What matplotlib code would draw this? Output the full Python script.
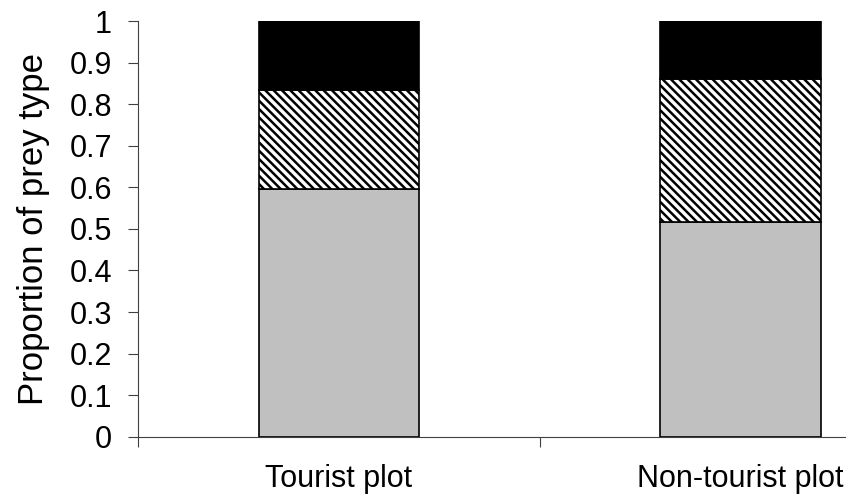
import numpy as np
import matplotlib.pyplot as plt

# data
categories = ['Tourist plot', 'Non-tourist plot']
prey_grey = [0.597, 0.517]
prey_hatched = [0.236, 0.343]
prey_black = [0.167, 0.140]
yticks = [0, 0.1, 0.2, 0.3, 0.4, 0.5, 0.6, 0.7, 0.8, 0.9, 1]
yticklabels = ['0', '0.1', '0.2', '0.3', '0.4', '0.5', '0.6', '0.7', '0.8', '0.9', '1']

plt.rcParams['font.family'] = ['Liberation Sans', 'DejaVu Sans']
plt.rcParams['font.size'] = 22
plt.rcParams['hatch.linewidth'] = 1.8

fig = plt.figure(dpi=100, figsize=[8.46, 4.97])
# axes run past the right edge, as in the cropped original
ax1 = fig.add_axes([0.1635, 0.1213, 0.949, 0.8364])

xpos = np.arange(len(categories))
bottom2 = np.array(prey_grey)
bottom3 = bottom2 + np.array(prey_hatched)

ax1.bar(xpos, prey_grey, width=0.4, color='#c0c0c0', edgecolor='black', linewidth=1.2)
ax1.bar(xpos, prey_hatched, width=0.4, bottom=bottom2, color='white',
        edgecolor='black', hatch='\\\\\\\\', linewidth=1.2)
ax1.bar(xpos, prey_black, width=0.4, bottom=bottom3, color='black',
        edgecolor='black', linewidth=1.2)

ax1.set_xlim(-0.5, len(categories) - 0.5)
ax1.set_ylim(0, 1)

# y axis
ax1.set_yticks(yticks)
ax1.set_yticklabels(yticklabels)
ax1.tick_params(axis='y', length=7, width=0.8, color='#404040', pad=12)
ax1.set_ylabel('Proportion of prey type', fontsize=25, labelpad=14)

# x axis: ticks between categories, labels at the centres
ax1.set_xticks(np.arange(-0.5, len(categories) + 0.5, 1.0))
ax1.set_xticklabels([])
ax1.tick_params(axis='x', which='major', length=7, width=0.8, color='#404040')
ax1.set_xticks(xpos, minor=True)
ax1.set_xticklabels(categories, minor=True)
ax1.tick_params(axis='x', which='minor', length=0, pad=20)

for s in ['top', 'right']:
    ax1.spines[s].set_visible(False)
for s in ['left', 'bottom']:
    ax1.spines[s].set_color('#404040')
    ax1.spines[s].set_linewidth(0.8)

plt.savefig('out.png', format='png')
